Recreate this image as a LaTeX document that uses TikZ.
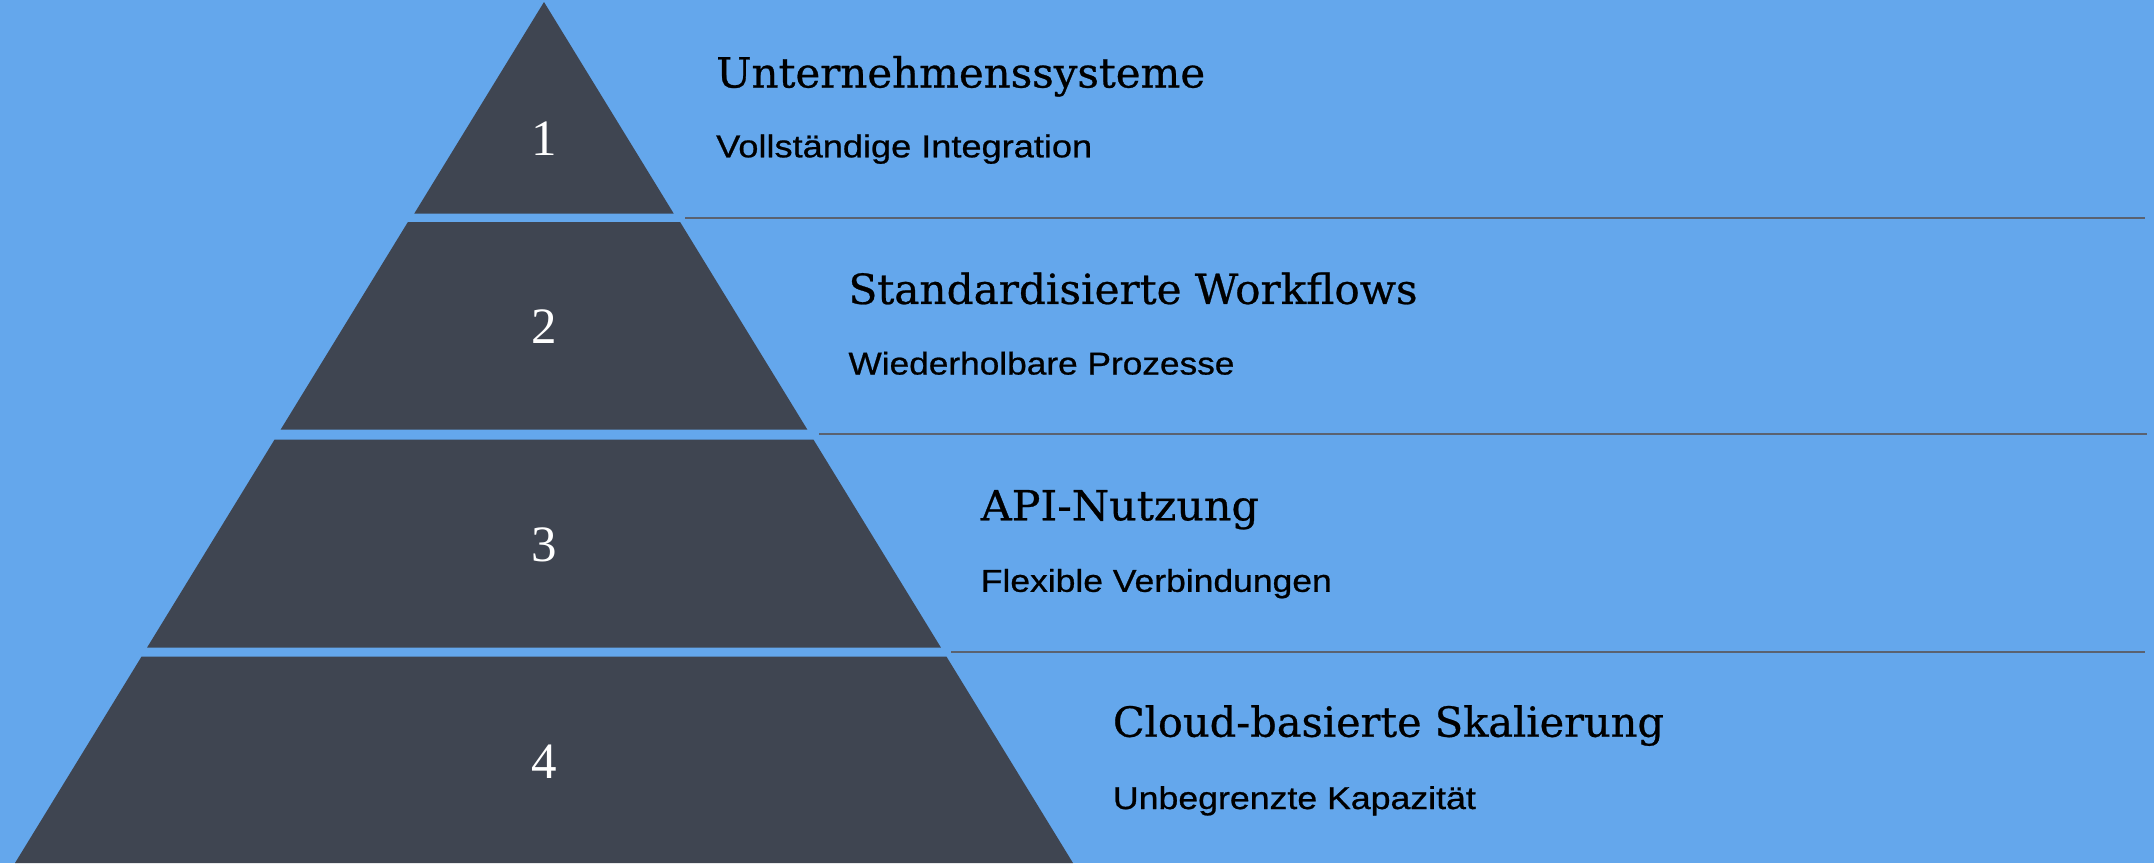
\documentclass[tikz,border=0pt]{standalone}
\usepackage{fontspec}
\usepackage{graphicx}
\setmainfont{Liberation Sans}
\newfontfamily\titlefont[FakeBold=0.6]{DejaVu Serif Condensed}
\newfontfamily\subfont[FakeBold=0.7]{Liberation Sans}
\newfontfamily\numfont{Liberation Serif}
\definecolor{bgblue}{HTML}{64A7EC}
\definecolor{pyr}{HTML}{3F4551}
\definecolor{sepline}{HTML}{5A6270}
\newcommand{\fitw}[2]{\resizebox{#1}{\height}{#2}}
\tikzset{
  layer/.style={fill=pyr, draw=none},
  numlbl/.style={anchor=base, inner sep=0pt, text=white, font=\numfont\fontsize{51}{56}\selectfont},
  titlelbl/.style={anchor=base west, inner sep=0pt, text=black, font=\titlefont\fontsize{41.5}{48}\selectfont},
  sublbl/.style={anchor=base west, inner sep=0pt, text=black, font=\subfont\fontsize{31.6}{36}\selectfont},
  sep/.style={draw=sepline, line width=1.6pt}
}
\begin{document}
\begin{tikzpicture}[x=1pt,y=-1pt]
\fill[bgblue] (0,0) rectangle (2154,863);
\useasboundingbox (0,0) rectangle (2154,863);
% pyramid layers
\fill[layer] (544,2) -- (673.7,213.5) -- (414.3,213.5) -- cycle;
\fill[layer] (407.9,222) -- (680.1,222) -- (807.3,429.5) -- (280.7,429.5) -- cycle;
\fill[layer] (274.6,439.5) -- (813.4,439.5) -- (940.9,647.5) -- (147.1,647.5) -- cycle;
\fill[layer] (141.6,656.5) -- (946.4,656.5) -- (1073,863) -- (15,863) -- cycle;
% numbers
\node[numlbl] (n1) at (544,155) {1};
\node[numlbl] (n2) at (544,343.5) {2};
\node[numlbl] (n3) at (544,561.5) {3};
\node[numlbl] (n4) at (544,778) {4};
% separator lines
\coordinate (s1a) at (685,218);  \coordinate (s1b) at (2145,218);
\coordinate (s2a) at (819,434);  \coordinate (s2b) at (2147,434);
\coordinate (s3a) at (951,652);  \coordinate (s3b) at (2145,652);
\draw[sep] (s1a) -- (s1b);
\draw[sep] (s2a) -- (s2b);
\draw[sep] (s3a) -- (s3b);
% titles
\node[titlelbl] (t1) at (716,87.5) {\fitw{489pt}{Unternehmenssysteme}};
\node[titlelbl] (t2) at (848.3,303.9) {\fitw{569pt}{Standardisierte Workflows}};
\node[titlelbl] (t3) at (980.6,520.3) {\fitw{278pt}{API-Nutzung}};
\node[titlelbl] (t4) at (1112.7,736.7) {\fitw{551pt}{Cloud-basierte Skalierung}};
% subtitles
\node[sublbl] (u1) at (716,157.3) {\fitw{376pt}{Vollständige Integration}};
\node[sublbl] (u2) at (848.3,374.5) {\fitw{386pt}{Wiederholbare Prozesse}};
\node[sublbl] (u3) at (980.6,591.8) {\fitw{351pt}{Flexible Verbindungen}};
\node[sublbl] (u4) at (1112.7,809) {\fitw{363pt}{Unbegrenzte Kapazität}};
\end{tikzpicture}
\end{document}
